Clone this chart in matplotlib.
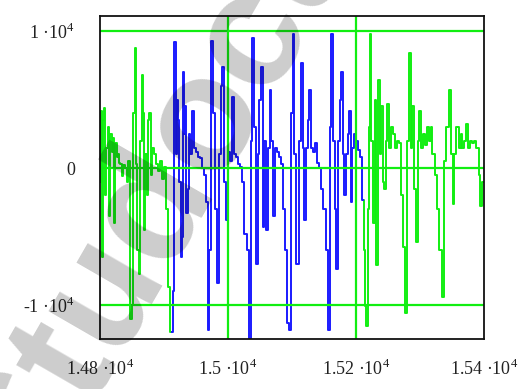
import matplotlib
matplotlib.use('Agg')
import matplotlib.pyplot as plt

plt.rcParams['mathtext.fontset'] = 'custom'
plt.rcParams['mathtext.rm'] = 'Liberation Serif'

# waveform (x in samples, y in amplitude)
green1_x = [14800, 14802, 14803, 14805, 14807, 14809, 14811, 14813, 14815, 14817,
            14819, 14821, 14823, 14825, 14827, 14829, 14831, 14833, 14835, 14837,
            14840, 14843, 14846, 14849, 14851, 14853, 14855, 14857, 14859, 14862,
            14864, 14866, 14868, 14870, 14872, 14874, 14876, 14878, 14880, 14883,
            14886, 14889, 14892, 14895, 14898, 14901, 14905, 14908, 14912]
green1_y = [-1000, 4200, -6500, 3500, 4400, -2000, 1500, 3000, -3500, 2500,
            1200, 2200, -4000, 1800, 800, 1000, 400, 300, -600, 200,
            0, -1000, 500, -11000, -10000, 4000, 8800, 300, -6000, -7700,
            2000, 6800, 4000, -4500, 1000, -2000, 3500, 4000, -500, 1500,
            1000, 300, -200, 500, -800, 100, -3000, -8700, -12000]

blue_x = [14912, 14915, 14917, 14919, 14921, 14923, 14925, 14927, 14929, 14930,
          14932, 14934, 14936, 14938, 14939, 14942, 14945, 14948, 14952, 14955,
          14958, 14961, 14964, 14967, 14969, 14972, 14975, 14978, 14981, 14984,
          14987, 14990, 14992, 14995, 14998, 15001, 15004, 15008, 15011, 15014,
          15017, 15020, 15023, 15027, 15031, 15034, 15037, 15039, 15042, 15045,
          15048, 15050, 15053, 15056, 15058, 15061, 15064, 15066, 15069, 15072,
          15075, 15078, 15081, 15084, 15087, 15090, 15094, 15097, 15100, 15102,
          15105, 15109, 15112, 15116, 15118, 15120, 15123, 15126, 15128, 15131,
          15134, 15137, 15141, 15144, 15147, 15151, 15155, 15158, 15160, 15162,
          15165, 15168, 15170, 15173, 15176, 15178, 15181, 15183, 15186, 15188,
          15191, 15193, 15196, 15199, 15202, 15205, 15208, 15211]
blue_y = [-12000, -9000, 9200, 1000, 5000, 3500, -1000, -6500, -5000, 7000,
          2500, 4500, -3300, -1500, 2500, 1000, 4200, 1500, 1200, 800,
          700, 0, -500, -2500, -11800, -6000, 9300, 4000, -3000, -8400,
          1000, 6000, 7400, -1000, -3800, 1200, 500, 5200, 1000, 800,
          300, 100, -1000, -4800, -6000, -12500, 2000, 9500, 3000, -7000,
          1000, 5000, 7400, -4300, 2000, -4500, 1500, 5700, 2000, -3500,
          1500, 1200, 800, 300, -3000, -6000, -11300, -11800, 4000, 9800,
          1000, -7000, 2000, 7700, 1500, -3800, 1500, 3500, 5700, 1500,
          1200, 1800, 400, 0, -1500, -3000, -6000, -11800, 3000, 9800,
          2000, -3000, -7400, 2000, 5000, 7000, 1000, -2000, 1000, 2500,
          4200, -2500, 1500, 2500, 2000, 1300, 800, -2300]

green2_x = [15211, 15213, 15215, 15217, 15219, 15221, 15223, 15225, 15228, 15231,
            15233, 15236, 15238, 15241, 15243, 15245, 15248, 15250, 15253, 15256,
            15259, 15262, 15265, 15269, 15272, 15275, 15278, 15281, 15284, 15287,
            15289, 15292, 15295, 15298, 15300, 15303, 15306, 15309, 15312, 15315,
            15318, 15321, 15325, 15328, 15332, 15336, 15339, 15343, 15347, 15350,
            15352, 15355, 15359, 15362, 15365, 15367, 15370, 15373, 15376, 15379,
            15383, 15386, 15390, 15393, 15395, 15400]
green2_y = [-2300, -6000, -10100, -11500, -3000, 3000, 9800, 2000, -4000, 5000,
            -7100, 6400, 1000, 4500, -1000, -1500, 2000, 4700, 1500, 3000,
            2500, 1500, 2000, 1800, -2000, -5800, -10600, 2000, 8400, 1500,
            4500, -1500, -5400, 2000, 4200, 1500, 2500, 1700, 3000, 2000,
            3000, 1000, -500, -3000, -6000, -9400, 500, 3000, 5700, 1000,
            -2600, 1000, 3000, 1500, 2500, 1500, 2000, 3200, 1500, 2000,
            1800, 2000, 1500, -500, -2800, -1000]

hlines = [1e4, 0, -1e4]
vlines = [15000, 15200]
xticks = [14800, 15000, 15200, 15400]
xlabels = ['1.48 ·10$^4$', '1.5 ·10$^4$', '1.52 ·10$^4$', '1.54 ·10$^4$']
yticks = [1e4, 0, -1e4]
ylabels = ['1 ·10$^4$', '0', '-1 ·10$^4$']

fig = plt.figure(figsize=(5.2, 3.89), dpi=100)
ax = fig.add_axes([100 / 520, 50 / 389, 384 / 520, 323 / 389])

green = '#11ee11'
ax.plot(green1_x, green1_y, color=green, lw=1.4, drawstyle='steps-mid')
ax.plot(green2_x, green2_y, color=green, lw=1.4, drawstyle='steps-mid')
ax.plot(blue_x, blue_y, color='#1a1aff', lw=1.4, drawstyle='steps-mid')

for h in hlines:
    ax.axhline(h, color=green, lw=1.6)
for v in vlines:
    ax.axvline(v, color=green, lw=1.6)

ax.set_xlim(14800, 15400)
ax.set_ylim(-12480, 11100)
ax.set_xticks(xticks, labels=xlabels)
ax.set_yticks(yticks, labels=ylabels)
ax.tick_params(length=0, labelsize=13, colors='#222222')
ax.tick_params(axis='x', pad=14)
ax.tick_params(axis='y', pad=18)
for lab in ax.get_xticklabels() + ax.get_yticklabels():
    lab.set_family('Liberation Serif')
for sp in ax.spines.values():
    sp.set_color('#111111')
    sp.set_linewidth(1.3)

# watermark over the whole picture
fig.text(0.31, 0.5, 'Studocu', rotation=60, fontsize=118, family='Liberation Sans',
         fontweight='bold', color='black', alpha=0.2, ha='center', va='center', zorder=10)

fig.savefig('out.png', dpi=100)
